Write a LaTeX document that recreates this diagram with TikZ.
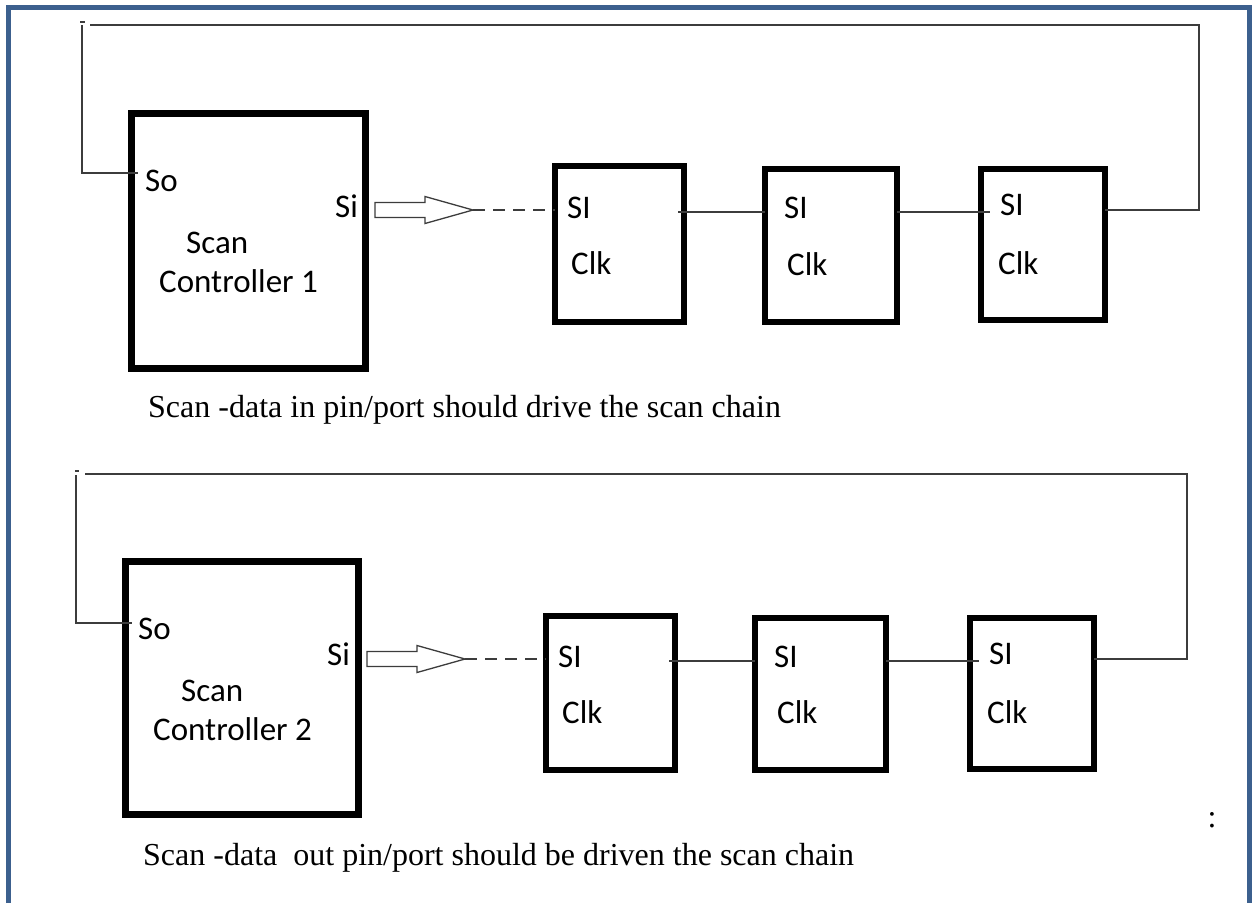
\documentclass[tikz,border=0pt]{standalone}
\usepackage{fontspec}
\setmainfont{Liberation Serif}
\newfontfamily\labelfont{Carlito}
\definecolor{frameblue}{RGB}{60,96,142}
\definecolor{wiregray}{RGB}{60,60,60}
\tikzset{
  wire/.style={draw=wiregray, line width=1.4pt},
  scandash/.style={wire, dash pattern=on 12pt off 8pt},
  ctrlbox/.style={draw=black, line width=7pt, inner sep=0pt, outer sep=0pt},
  ffbox/.style={draw=black, line width=6pt, inner sep=0pt, outer sep=0pt},
  lbl/.style={font=\labelfont\fontsize{33}{39}\selectfont, inner sep=0pt, anchor=base west},
  capt/.style={font=\fontsize{32}{38}\selectfont, inner sep=0pt, anchor=base west},
  blockarrow/.style={draw=wiregray, line width=1.3pt, fill=white, line join=miter},
  pics/hollowarrow/.style={code={
    \draw[blockarrow] (-98,-7.5) -- (-48,-7.5) -- (-48,-13.5) -- (0,0)
      -- (-48,13.5) -- (-48,7.5) -- (-98,7.5) -- cycle;}},
}
\begin{document}
\begin{tikzpicture}[x=1pt,y=-1pt]
\useasboundingbox (0,0) rectangle (1253,903);

% page frame
\draw[frameblue, line width=5.5pt] (8.5,903) -- (8.5,7.5) -- (1249.5,7.5) -- (1249.5,903);

% ---------------- chain 1 ----------------
\node[ctrlbox, minimum width=234pt, minimum height=255pt] (ctrl1) at (248.5,241) {};
\node[ffbox, minimum width=129pt, minimum height=156pt] (ff11) at (619.5,244) {};
\node[ffbox, minimum width=132pt, minimum height=153pt] (ff12) at (831,245.5) {};
\node[ffbox, minimum width=124pt, minimum height=151pt] (ff13) at (1043,244.5) {};

\node[lbl] (so1) at (145,191) {So};
\node[lbl] (si1) at (335,217) {Si};
\node[lbl] (scan1) at (186,253) {Scan};
\node[lbl] (cn1) at (159,292) {Controller 1};
\node[lbl] (ff11si) at (567,218) {SI};
\node[lbl] (ff11clk) at (571,274) {Clk};
\node[lbl] (ff12si) at (784,218) {SI};
\node[lbl] (ff12clk) at (787,275) {Clk};
\node[lbl] (ff13si) at (1000,215) {SI};
\node[lbl] (ff13clk) at (998,274) {Clk};

\coordinate (tip1) at (473,210);
\pic at (tip1) {hollowarrow};
\draw[scandash] (tip1) -- (tip1 -| ff11.west);

\coordinate (row1) at (0,212);
\draw[wire] ([xshift=-6pt]row1 -| ff11.east) -- (row1 -| ff12.west);
\draw[wire] (row1 -| ff12.east) -- ([xshift=9pt]row1 -| ff13.west);

\coordinate (out1) at (0,210);
\coordinate (ret1r) at (1199,25);
\coordinate (ret1t) at (90,25);
\coordinate (ret1l) at (82,25);
\coordinate (ret1b) at (82,173);
\coordinate (tick1a) at (80,22);
\coordinate (tick1b) at (85,22);
\draw[wire] (out1 -| ff13.east) -| (ret1r) -- (ret1t);
\draw[wire] (ret1l) -- (ret1b) -- ([xshift=6pt]ret1b -| ctrl1.west);
\draw[wire] (tick1a) -- (tick1b);

\node[capt] (cap1) at (148,417) {Scan -data in pin/port should drive the scan chain};

% ---------------- chain 2 ----------------
\node[ctrlbox, minimum width=233pt, minimum height=253pt] (ctrl2) at (242,688) {};
\node[ffbox, minimum width=129pt, minimum height=154pt] (ff21) at (610.5,693) {};
\node[ffbox, minimum width=131pt, minimum height=152pt] (ff22) at (820.5,694) {};
\node[ffbox, minimum width=124pt, minimum height=151pt] (ff23) at (1032,693.5) {};

\node[lbl] (so2) at (138,639) {So};
\node[lbl] (si2) at (327,665) {Si};
\node[lbl] (scan2) at (181,701) {Scan};
\node[lbl] (cn2) at (153,740) {Controller 2};
\node[lbl] (ff21si) at (558,667) {SI};
\node[lbl] (ff21clk) at (562,723) {Clk};
\node[lbl] (ff22si) at (774,667) {SI};
\node[lbl] (ff22clk) at (777,723) {Clk};
\node[lbl] (ff23si) at (989,664) {SI};
\node[lbl] (ff23clk) at (987,723) {Clk};

\coordinate (tip2) at (465,659);
\pic at (tip2) {hollowarrow};
\draw[scandash] (tip2) -- (tip2 -| ff21.west);

\coordinate (row2) at (0,661);
\draw[wire] ([xshift=-6pt]row2 -| ff21.east) -- (row2 -| ff22.west);
\draw[wire] (row2 -| ff22.east) -- ([xshift=9pt]row2 -| ff23.west);

\coordinate (out2) at (0,659);
\coordinate (ret2r) at (1187,474);
\coordinate (ret2t) at (85,474);
\coordinate (ret2l) at (76,475);
\coordinate (ret2b) at (76,623);
\coordinate (tick2a) at (75,471);
\coordinate (tick2b) at (79,471);
\draw[wire] (out2 -| ff23.east) -| (ret2r) -- (ret2t);
\draw[wire] (ret2l) -- (ret2b) -- ([xshift=6pt]ret2b -| ctrl2.west);
\draw[wire] (tick2a) -- (tick2b);

\node[capt, anchor=center] (colon) at (1212,820) {:};
\node[capt] (cap2) at (143,865) {Scan -data\ \ out pin/port should be driven the scan chain};
\end{tikzpicture}
\end{document}
